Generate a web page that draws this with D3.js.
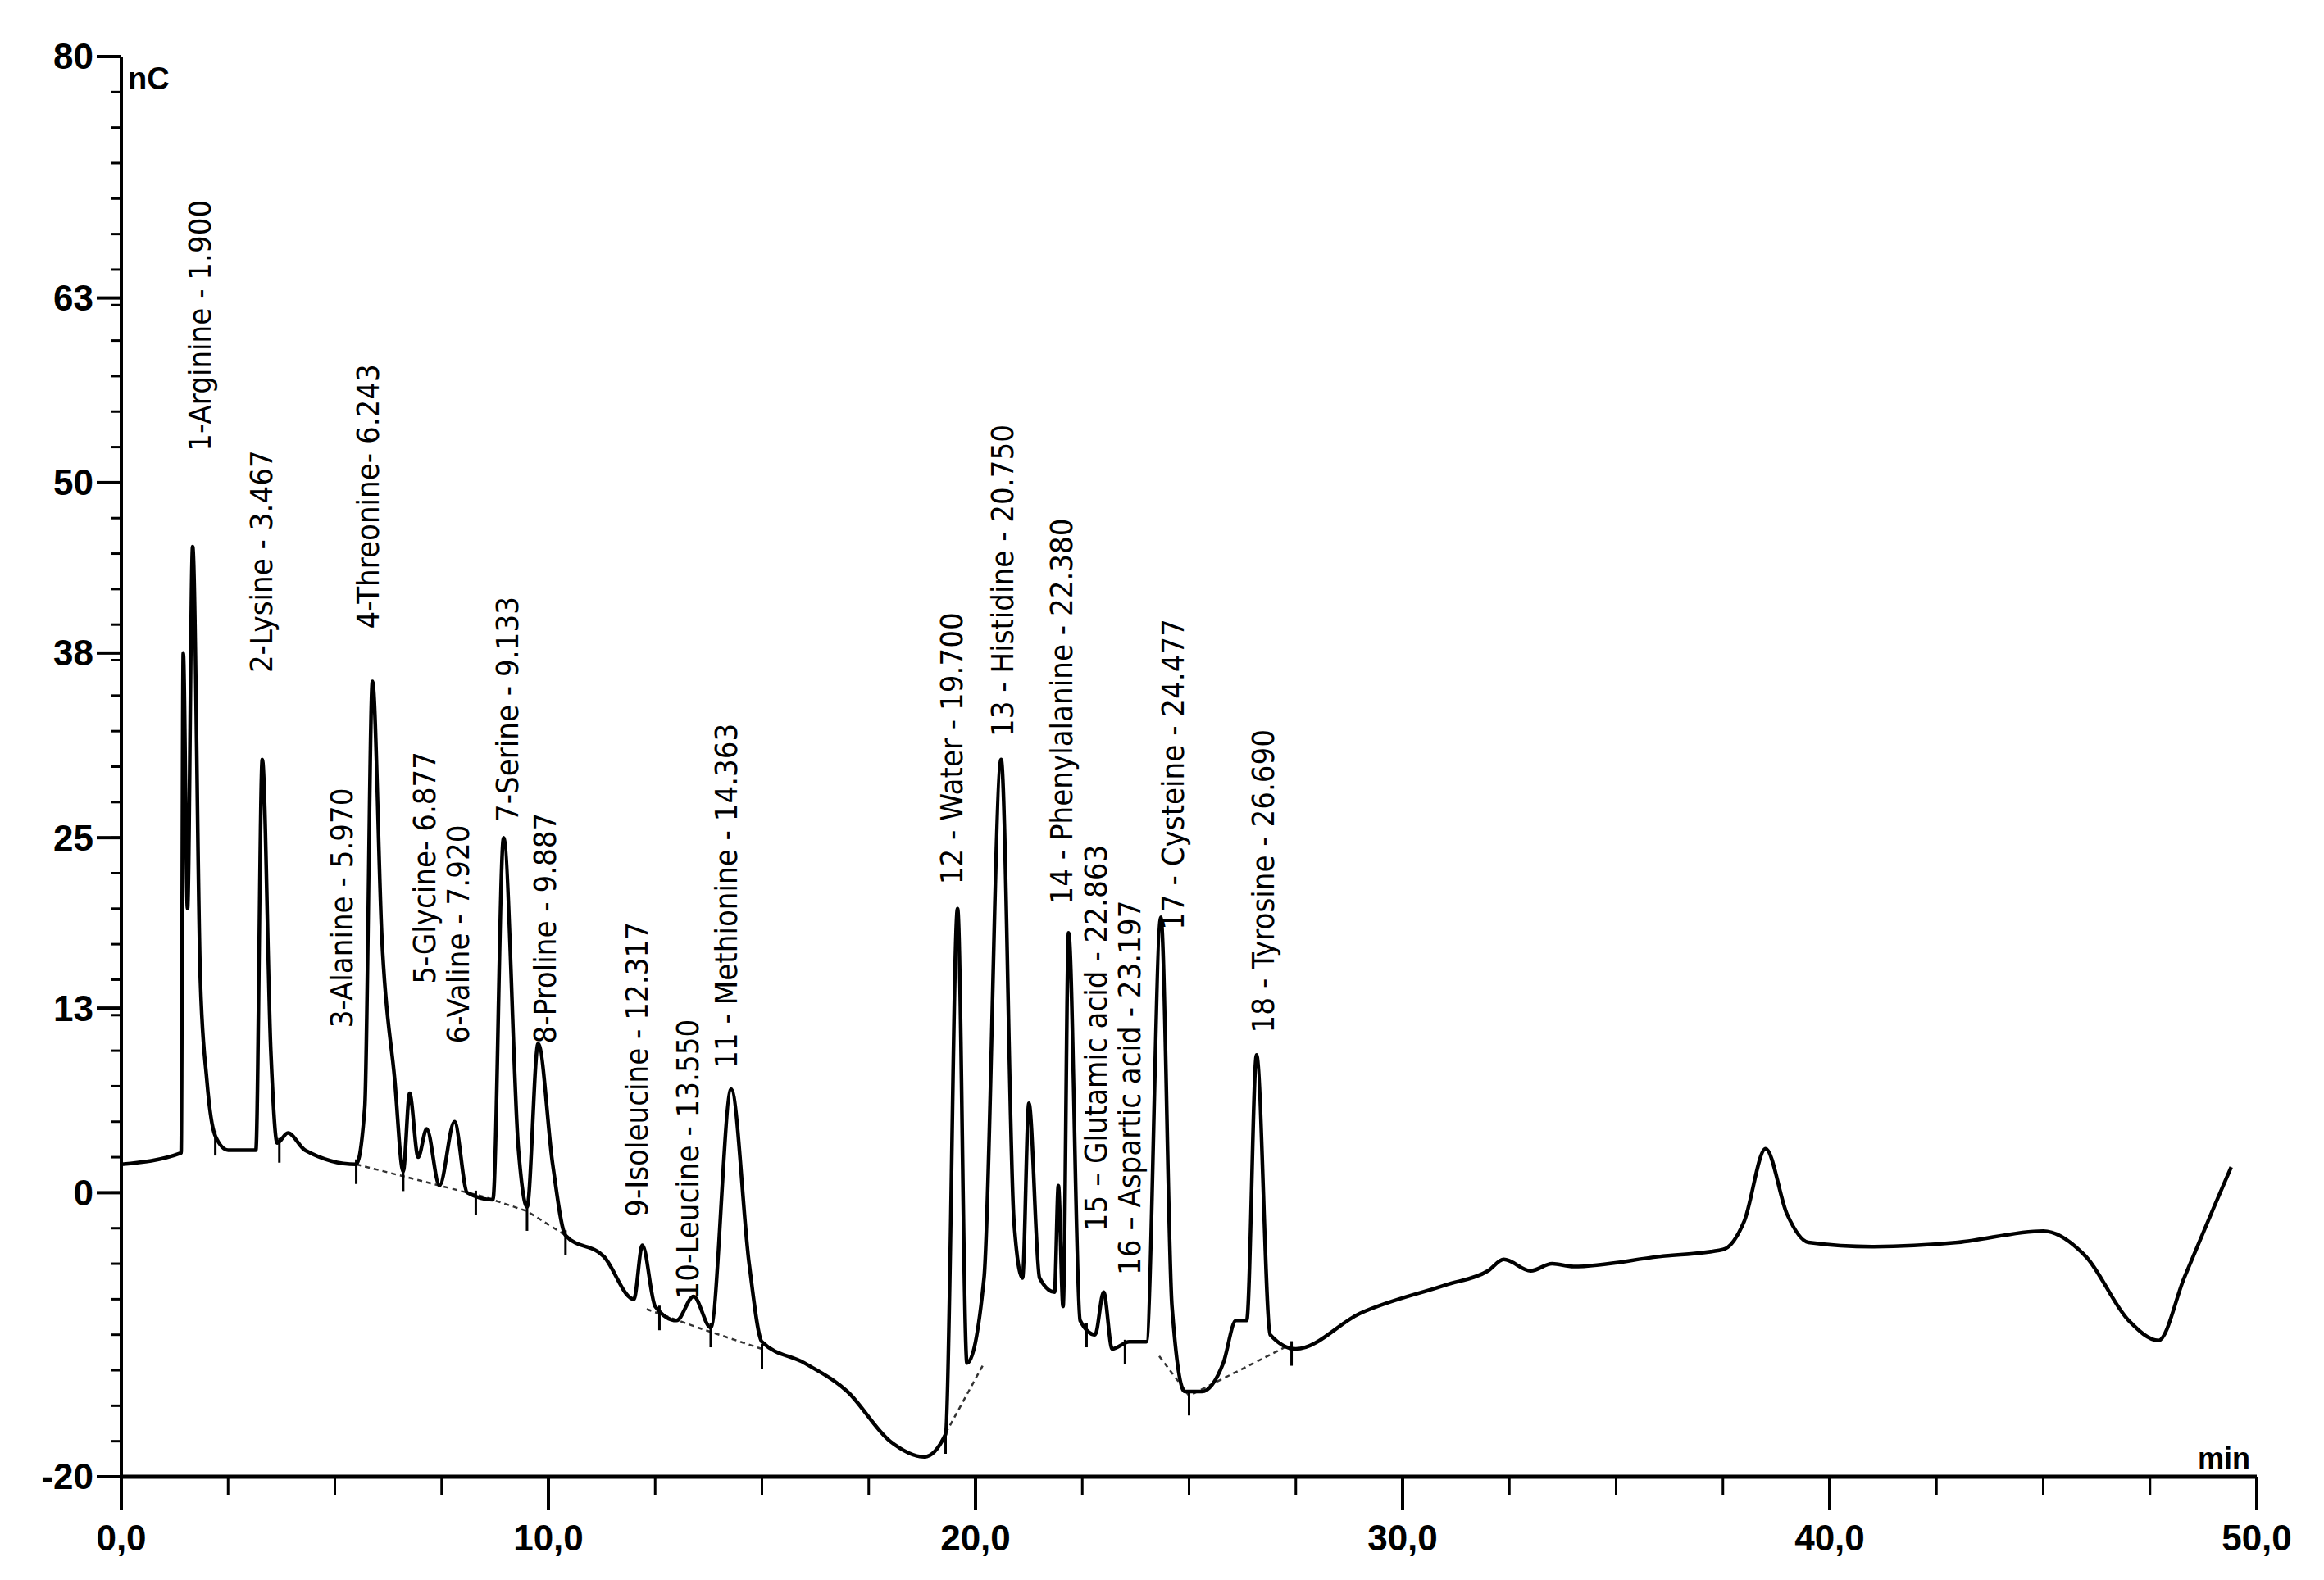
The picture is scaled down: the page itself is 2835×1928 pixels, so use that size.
<!DOCTYPE html>
<html>
<head>
<meta charset="utf-8">
<script src="https://cdn.jsdelivr.net/npm/d3@7"></script>
<style>
body { margin: 0; background: #fff; }
</style>
</head>
<body>
<script>
const svgWidth = 2835;
const svgHeight = 1928;

// chromatogram trace [min, nC]
const trace = [
	[0, 2], [1.4, 2.8], [1.45, 38], [1.55, 20], [1.67, 45.5], [1.85, 15], [2.0, 8], [2.2, 4], [2.5, 3], [3.15, 3],
	[3.3, 30.5], [3.5, 10], [3.65, 3.5], [3.9, 4.2], [4.3, 3], [5.5, 2], [5.7, 6], [5.88, 36], [6.1, 18], [6.4, 8],
	[6.6, 1.5], [6.75, 7], [6.95, 2.5], [7.15, 4.5], [7.45, 0.5], [7.8, 5], [8.1, 0], [8.7, -0.5], [8.95, 25], [9.3, 3],
	[9.5, -1], [9.76, 10.5], [10.1, 2], [10.4, -3], [11.3, -4.5], [12.0, -7.5], [12.2, -3.7], [12.5, -8], [13.0, -9],
	[13.4, -7.3], [13.8, -9.5], [14.28, 7.3], [14.7, -5], [15.0, -10.5], [16, -12], [17, -14], [18, -17.5], [18.8, -18.6],
	[19.3, -17], [19.58, 20], [19.8, -12], [20.2, -6], [20.6, 30.5], [20.9, -2], [21.1, -6], [21.25, 6.3], [21.5, -6],
	[21.85, -7], [21.94, 0.5], [22.05, -8], [22.18, 18.3], [22.45, -9], [22.8, -10], [23.0, -7], [23.2, -11], [23.6, -10.5],
	[24.0, -10.5], [24.34, 19.4], [24.6, -8], [24.9, -14], [25.3, -14], [25.8, -12], [26.1, -9], [26.35, -9], [26.58, 9.7],
	[26.9, -10], [27.5, -11], [29, -8.5], [31, -6.5], [32, -5.5], [32.37, -4.7], [33, -5.5], [33.5, -5], [34, -5.2],
	[36, -4.5], [37.5, -4], [38, -2], [38.5, 3.1], [39, -1.5], [39.5, -3.5], [41, -3.8], [43, -3.5], [45, -2.7],
	[46, -4.5], [47, -9], [47.7, -10.4], [48.3, -6], [49, -1], [49.4, 1.8]
];

// dashed integration baselines
const baselines = [
	[[5.5, 2], [8.5, -0.3], [9.5, -1.3], [10.4, -3]],
	[[12.3, -8.2], [13.5, -9.5], [15.0, -11]],
	[[19.2, -17.5], [20.2, -12]],
	[[24.3, -11.5], [25.0, -14.3], [27.3, -10.8]]
];

// integration markers [min, nC]
const markers = [
	[2.2, 4], [3.7, 3.5], [5.5, 2], [6.6, 1.5], [8.3, -0.2], [9.5, -1.3], [10.4, -3], [12.6, -8.3],
	[13.8, -9.5], [15.0, -11], [19.3, -17], [22.6, -9.5], [23.5, -10.7], [25.0, -14.3], [27.4, -10.8]
];

// peak labels and their anchor [min, nC]
const peakLabels = [
	"1-Arginine - 1.900", "2-Lysine - 3.467", "3-Alanine - 5.970", "4-Threonine- 6.243",
	"5-Glycine- 6.877", "6-Valine - 7.920", "7-Serine - 9.133", "8-Proline - 9.887",
	"9-Isoleucine - 12.317", "10-Leucine - 13.550", "11 - Methionine - 14.363", "12 - Water - 19.700",
	"13 - Histidine - 20.750", "14 - Phenylalanine - 22.380", "15 \u2013 Glutamic acid - 22.863",
	"16 \u2013 Aspartic acid - 23.197", "17 - Cysteine - 24.477", "18 - Tyrosine - 26.690"
];
const labelAnchors = [
	[1.84, 52.2], [3.27, 36.6], [5.15, 11.6], [5.77, 39.7], [7.09, 14.7], [7.89, 10.5], [9.04, 26.1], [9.91, 10.5],
	[12.07, -1.7], [13.25, -7.5], [14.15, 8.75], [19.44, 21.7], [20.62, 32.1], [22.01, 20.3], [22.81, -2.7],
	[23.61, -5.8], [24.62, 18.5], [26.74, 11.25]
];

const yTicks = [80, 63, 50, 38, 25, 13, 0, -20];
const xTicks = [0, 10, 20, 30, 40, 50];

const svg = d3.select("body").append("svg")
	.attr("width", svgWidth)
	.attr("height", svgHeight);

const xScale = d3.scaleLinear().domain([0, 50]).range([148, 2753]);
const yScale = d3.scaleLinear().domain([-20, 80]).range([1802, 69]);

const line = d3.line().x((d) => xScale(d[0])).y((d) => yScale(d[1]));
const smooth = d3.line().x((d) => xScale(d[0])).y((d) => yScale(d[1])).curve(d3.curveMonotoneX);

//=====
// axes
//=====
const axisFont = "'Liberation Sans', Arial, sans-serif";

svg.append("line")
	.attr("x1", xScale(0)).attr("x2", xScale(0))
	.attr("y1", yScale(80)).attr("y2", yScale(-20))
	.attr("stroke", "#000").attr("stroke-width", 4);

svg.selectAll(".ymin")
	.data(d3.range(-20, 80.01, 2.5))
	.enter().append("line")
	.attr("x1", xScale(0) - 12).attr("x2", xScale(0))
	.attr("y1", (d) => yScale(d)).attr("y2", (d) => yScale(d))
	.attr("stroke", "#000").attr("stroke-width", 3);

svg.selectAll(".ymaj")
	.data(yTicks)
	.enter().append("line")
	.attr("x1", xScale(0) - 30).attr("x2", xScale(0))
	.attr("y1", (d) => yScale(d)).attr("y2", (d) => yScale(d))
	.attr("stroke", "#000").attr("stroke-width", 4);

svg.selectAll(".ylab")
	.data(yTicks)
	.enter().append("text")
	.attr("x", xScale(0) - 34)
	.attr("y", (d) => yScale(d))
	.attr("dy", "0.35em")
	.attr("text-anchor", "end")
	.attr("font-family", axisFont)
	.attr("font-weight", "bold")
	.attr("font-size", 44)
	.text((d) => d);

svg.append("line")
	.attr("x1", xScale(0)).attr("x2", xScale(50))
	.attr("y1", yScale(-20)).attr("y2", yScale(-20))
	.attr("stroke", "#000").attr("stroke-width", 5);

svg.selectAll(".xmin")
	.data(d3.range(0, 50.01, 2.5))
	.enter().append("line")
	.attr("x1", (d) => xScale(d)).attr("x2", (d) => xScale(d))
	.attr("y1", yScale(-20)).attr("y2", yScale(-20) + 22)
	.attr("stroke", "#000").attr("stroke-width", 3);

svg.selectAll(".xmaj")
	.data(xTicks)
	.enter().append("line")
	.attr("x1", (d) => xScale(d)).attr("x2", (d) => xScale(d))
	.attr("y1", yScale(-20)).attr("y2", yScale(-20) + 40)
	.attr("stroke", "#000").attr("stroke-width", 4);

svg.selectAll(".xlab")
	.data(xTicks)
	.enter().append("text")
	.attr("x", (d) => xScale(d))
	.attr("y", yScale(-20) + 90)
	.attr("text-anchor", "middle")
	.attr("font-family", axisFont)
	.attr("font-weight", "bold")
	.attr("font-size", 44)
	.text((d) => d3.format(".1f")(d).replace(".", ","));

svg.append("text")
	.attr("x", xScale(0) + 8).attr("y", yScale(80) + 40)
	.attr("font-family", axisFont).attr("font-weight", "bold").attr("font-size", 38)
	.text("nC");

svg.append("text")
	.attr("x", xScale(50) - 8).attr("y", yScale(-20) - 10)
	.attr("text-anchor", "end")
	.attr("font-family", axisFont).attr("font-weight", "bold").attr("font-size", 36)
	.text("min");

//=====
// trace
//=====
svg.selectAll(".base")
	.data(baselines)
	.enter().append("path")
	.attr("d", line)
	.attr("fill", "none")
	.attr("stroke", "#333")
	.attr("stroke-width", 2.5)
	.attr("stroke-dasharray", "6,5");

svg.selectAll(".marker")
	.data(markers)
	.enter().append("line")
	.attr("x1", (d) => xScale(d[0])).attr("x2", (d) => xScale(d[0]))
	.attr("y1", (d) => yScale(d[1]) - 6).attr("y2", (d) => yScale(d[1]) + 24)
	.attr("stroke", "#000").attr("stroke-width", 3);

svg.append("path")
	.datum(trace)
	.attr("d", smooth)
	.attr("fill", "none")
	.attr("stroke", "#000")
	.attr("stroke-width", 4.5)
	.attr("stroke-linejoin", "round");

//=====
// peak labels
//=====
svg.selectAll(".peak")
	.data(peakLabels)
	.enter().append("text")
	.attr("transform", (d, i) =>
		`translate(${xScale(labelAnchors[i][0])},${yScale(labelAnchors[i][1])}) rotate(-90)`)
	.attr("dy", "0.35em")
	.attr("font-family", "'Liberation Sans Narrow', 'DejaVu Sans Condensed', Arial, sans-serif")
	.attr("font-size", 38)
	.attr("font-weight", 500)
	.text((d) => d);
</script>
</body>
</html>
